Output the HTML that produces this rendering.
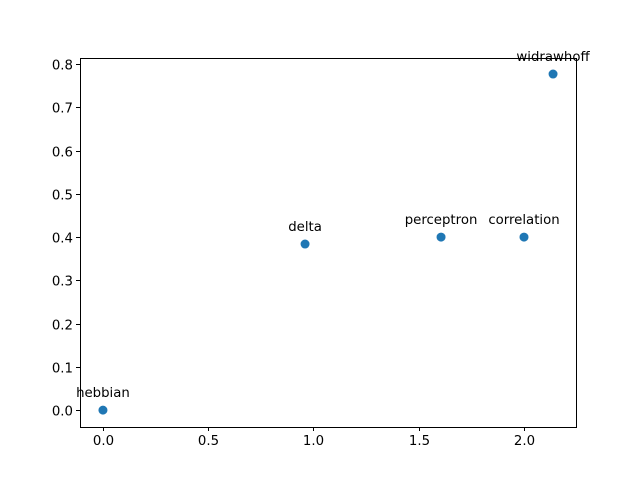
<!DOCTYPE html>
<html><head><meta charset="utf-8"><style>
html,body{margin:0;padding:0;background:#fff;}
svg text{font-family:"DejaVu Sans","Liberation Sans",sans-serif;}
</style></head><body>
<svg id="chart" width="640" height="480" xmlns="http://www.w3.org/2000/svg"></svg>
<script>
const labels = ["hebbian","delta","perceptron","correlation","widrawhoff"];
const xValues = [0, 0.96, 1.606, 2.0, 2.138];
const yValues = [0, 0.384, 0.4, 0.4, 0.777];
const xTicks = [0, 0.5, 1.0, 1.5, 2.0];
const xTickLabels = ["0.0","0.5","1.0","1.5","2.0"];
const yTicks = [0, 0.1, 0.2, 0.3, 0.4, 0.5, 0.6, 0.7, 0.8];
const yTickLabels = ["0.0","0.1","0.2","0.3","0.4","0.5","0.6","0.7","0.8"];

const L=80,R=576,T=58,B=427;
const xmin=-0.109,xmax=2.247,ymin=-0.039,ymax=0.814;
const sx=v=>L+(v-xmin)/(xmax-xmin)*(R-L);
const sy=v=>B-(v-ymin)/(ymax-ymin)*(B-T);
const svg=document.getElementById('chart');
const NS="http://www.w3.org/2000/svg";
function mk(tag,attrs,parent){const e=document.createElementNS(NS,tag);for(const k in attrs)e.setAttribute(k,attrs[k]);(parent||svg).appendChild(e);return e;}

const frame=mk('rect',{x:L+0.5,y:T+0.5,width:R-L,height:B-T,fill:'none',stroke:'#000','stroke-width':1});



xTicks.forEach((t,i)=>{
  const g=mk('g',{});
  
  
  const x=Math.round(sx(t))+0.5;
  mk('line',{x1:x,x2:x,y1:B,y2:B+4,stroke:'#000','stroke-width':1},g);
  const tx=mk('text',{x:x,y:B+18,'text-anchor':'middle','font-size':'13.3px',fill:'#000'},g);
  tx.textContent=xTickLabels[i];
});
yTicks.forEach((t,i)=>{
  const g=mk('g',{});
  
  
  const y=Math.round(sy(t))+0.5;
  mk('line',{x1:L-4,x2:L,y1:y,y2:y,stroke:'#000','stroke-width':1},g);
  const tx=mk('text',{x:L-7,y:y+5,'text-anchor':'end','font-size':'13.3px',fill:'#000'},g);
  tx.textContent=yTickLabels[i];
});
labels.forEach((lab,i)=>{
  const x=sx(xValues[i]),y=sy(yValues[i]);
  const c=mk('circle',{cx:x,cy:y,r:4.5,fill:'#1f77b4'});
  
  
  const t=mk('text',{x:x,y:y-13,'text-anchor':'middle','font-size':'13.3px',fill:'#000'});
  
  
  t.textContent=lab;
});
</script>
</body></html>
